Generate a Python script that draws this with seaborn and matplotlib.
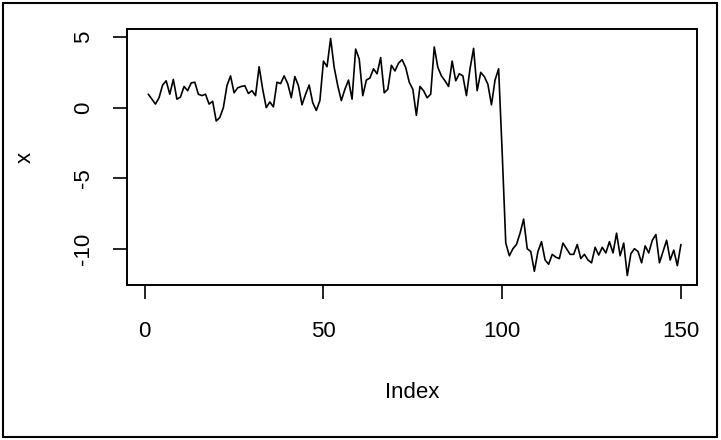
import numpy as np
import pandas as pd
import matplotlib
matplotlib.use("Agg")
import matplotlib.pyplot as plt
import seaborn as sns
from matplotlib.patches import Rectangle

# series values (index 1..150)
first_part = [0.95, 0.6, 0.25, 0.7, 1.6, 1.9, 0.95, 2.0, 0.6, 0.75,
              1.5, 1.2, 1.75, 1.8, 0.95, 0.85, 0.95, 0.25, 0.45, -0.95,
              -0.7, 0.0, 1.55, 2.25, 1.05, 1.4, 1.5, 1.55, 1.0, 1.2,
              0.85, 2.9, 1.3, 0.0, 0.4, 0.05, 1.8, 1.7, 2.25, 1.7,
              0.7, 2.2, 1.55, 0.2, 0.95, 1.6, 0.35, -0.2, 0.5, 3.3,
              2.9, 4.9, 2.85, 1.55, 0.5, 1.3, 1.95, 0.6, 4.15, 3.45,
              0.85, 1.95, 2.1, 2.75, 2.4, 3.55, 1.05, 1.3, 3.0, 2.6,
              3.15, 3.4, 2.85, 1.8, 1.3, -0.55, 1.5, 1.2, 0.7, 0.95,
              4.3, 2.85, 2.25, 1.9, 1.5, 3.3, 1.9, 2.4, 2.25, 0.85,
              2.75, 4.2, 1.2, 2.5, 2.2, 1.65, 0.2, 1.95, 2.75, -3.2]
second_part = [-9.6, -10.5, -10.0, -9.7, -8.9, -7.9, -10.0, -10.2, -11.6, -10.2,
               -9.5, -10.8, -11.1, -10.4, -10.6, -10.7, -9.6, -10.0, -10.4, -10.4,
               -9.7, -10.7, -10.4, -10.8, -11.0, -9.9, -10.45, -9.9, -10.3, -9.5,
               -10.3, -8.9, -10.5, -9.6, -11.9, -10.35, -10.0, -10.2, -11.0, -9.8,
               -10.3, -9.4, -9.0, -11.0, -10.2, -9.4, -10.8, -10.1, -11.2, -9.7]
x = first_part + second_part
index = list(range(1, len(x) + 1))

x_ticks = [0, 50, 100, 150]
y_ticks = [-10, -5, 0, 5]

df = pd.DataFrame({"Index": index, "x": x})

sns.set_style("ticks")
plt.rcParams["font.family"] = ["Liberation Sans", "DejaVu Sans"]
plt.rcParams["text.color"] = "black"
plt.rcParams["xtick.color"] = "black"
plt.rcParams["ytick.color"] = "black"
plt.rcParams["axes.labelcolor"] = "black"

fig = plt.figure(figsize=(7.21, 4.40), dpi=100)
W, H = 721, 440
# axes box in pixels: left 127, right 697, top 29, bottom 285
ax = fig.add_axes([127 / W, 1 - 285 / H, (697 - 127) / W, (285 - 29) / H])

sns.lineplot(data=df, x="Index", y="x", color="black", linewidth=1.2, ax=ax)

# 0 sits at 144.7 px, 150 at 681 px
ax.set_xlim(1 - 0.04 * 149, 154.5)
rng = max(x) - min(x)
ax.set_ylim(min(x) - 0.04 * rng, max(x) + 0.04 * rng)

ax.set_xticks(x_ticks)
ax.set_yticks(y_ticks)
ax.set_xticklabels([str(t) for t in x_ticks])
ax.set_yticklabels([str(t) for t in y_ticks], rotation=90, va="center")
ax.tick_params(axis="both", length=10, width=1.2, labelsize=16,
               color="black", labelcolor="black")
ax.tick_params(axis="x", pad=16)
ax.tick_params(axis="y", pad=14)

for s in ax.spines.values():
    s.set_visible(True)
    s.set_linewidth(1.4)
    s.set_color("black")

ax.set_xlabel("Index", fontsize=16, color="black")
ax.set_ylabel("x", fontsize=16, color="black")
ax.xaxis.set_label_coords(0.5, -(393 - 285) / 256)
ax.xaxis.label.set_va("center")
ax.yaxis.set_label_coords(-(127 - 25) / 570, 0.5)
ax.yaxis.label.set_va("center")

# outer frame around the figure
fig.patches.append(Rectangle((3 / W, 3 / H), (717 - 3) / W, (437 - 3) / H,
                             transform=fig.transFigure, fill=False,
                             edgecolor="black", linewidth=1.5))

fig.savefig("out.png", dpi=100, facecolor="white")
